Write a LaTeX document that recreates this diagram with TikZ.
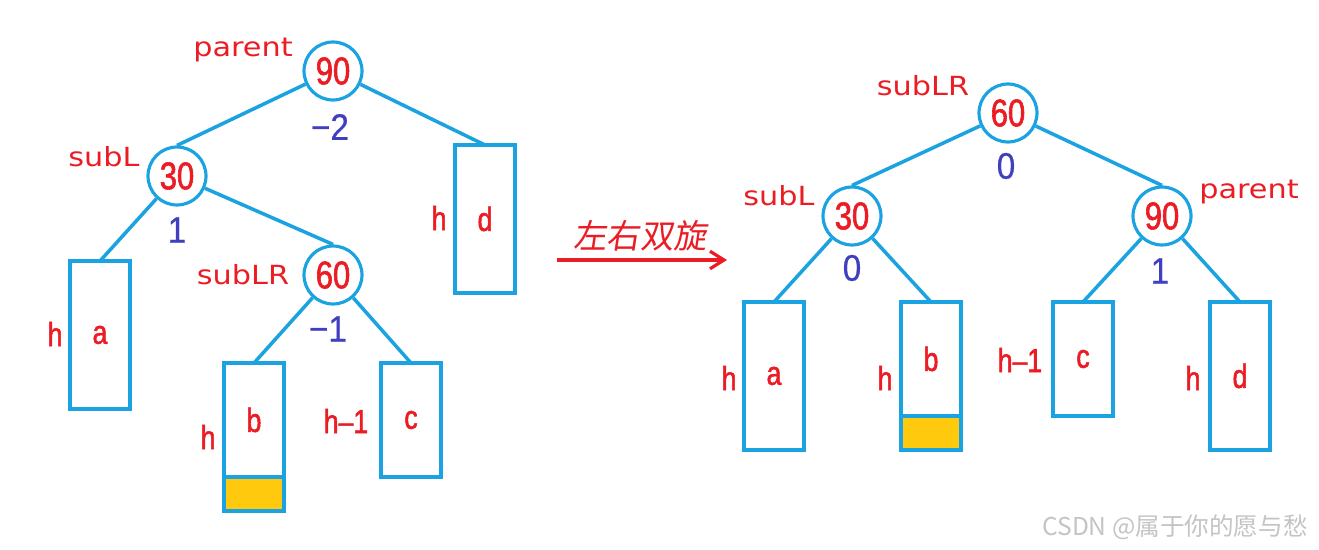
\documentclass[tikz,border=0pt]{standalone}
\usepackage{fontspec}
\setmainfont{Liberation Sans}
\newfontfamily\numfont[FakeStretch=0.9,FakeBold=0.6]{Liberation Sans}
\newfontfamily\keyfont[FakeStretch=0.8,FakeBold=1.5]{Liberation Sans}
\newfontfamily\tagfont[FakeStretch=1.15]{DejaVu Sans}
\newfontfamily\cjkfont[FakeSlant=0.15]{Noto Sans CJK SC}
\newfontfamily\markfont{Noto Sans CJK SC}
\usepackage{tikz}
\usetikzlibrary{positioning,arrows.meta,calc}
\usepackage{xcolor}
\definecolor{avlblue}{HTML}{1AA3E0}
\definecolor{avlred}{HTML}{EC1C24}
\definecolor{avlbf}{HTML}{3F3FBF}
\definecolor{avlyellow}{HTML}{FFC90E}
\definecolor{avlgray}{HTML}{C4C4C4}

\begin{document}
\begin{tikzpicture}[
    x=0.02cm, y=-0.02cm,
    keynode/.style={circle, draw=avlblue, line width=1.8pt, fill=white, minimum size=1.16cm, inner sep=0pt, text=avlred, font=\keyfont\fontsize{22}{22}\selectfont},
    subtree/.style={draw=avlblue, line width=1.9pt, fill=white, minimum width=1.2cm, minimum height=#1, inner sep=0pt, outer sep=0pt, text=avlred, font=\keyfont\fontsize{19}{19}\selectfont},
    growpart/.style={draw=avlblue, line width=1.9pt, fill=avlyellow, minimum width=1.2cm, minimum height=0.68cm, inner sep=0pt, outer sep=0pt},
    treeline/.style={draw=avlblue, line width=2pt},
    tagtext/.style={text=avlred, font=\tagfont\fontsize{15}{15}\selectfont},
    bftext/.style={text=avlbf, font=\numfont\fontsize{21}{21}\selectfont},
    httext/.style={text=avlred, font=\keyfont\fontsize{19}{19}\selectfont},
]
\useasboundingbox (0,0) rectangle (1319,550);

% === Left tree: before rotation ===
\node[keynode] (p90) at (333,71) {90};
\node[keynode] (l30) at (177,176) {30};
\node[keynode] (lr60) at (333,275) {60};
\node[subtree=2.96cm] (ta) at (100,335) {a};
\node[subtree=2.28cm] (tb) at (254,420) {b};
\node[growpart, anchor=north] (tbx) at (tb.south) {};
\node[subtree=2.28cm] (tc) at (411,420) {c};
\node[subtree=2.96cm] (td) at (485,219) {d};

\draw[treeline] (p90) -- (l30.north);
\draw[treeline] (p90) -- (td.north);
\draw[treeline] (l30) -- (ta.north);
\draw[treeline] (l30) -- (lr60.north);
\draw[treeline] (lr60) -- (tb.north);
\draw[treeline] (lr60) -- (tc.north);

\node[tagtext] (tagp) at (243,50) {parent};
\node[tagtext] (tagl) at (104,157) {subL};
\node[tagtext] (taglr) at (243,275) {subLR};
\node[bftext] (bfp) at (330,127) {−2};
\node[bftext] (bfl) at (177,230) {1};
\node[bftext] (bflr) at (328,329) {−1};
\node[httext] (ha) at (55,334) {h};
\node[httext] (hb) at (208,437) {h};
\node[httext] (hc) at (346,421) {h–1};
\node[httext] (hd) at (439,218) {h};

% === Arrow: double rotation ===
\coordinate (rs) at (557,260);
\coordinate (re) at (727,260);
\draw[-{Straight Barb[length=8pt,width=10pt]}, draw=avlred, line width=1.8pt] (rs) -- (re);
\node[text=avlred, font=\cjkfont\fontsize{19}{19}\selectfont] (rot) at (640,236) {左右双旋};

% === Right tree: after rotation ===
\node[keynode] (r60) at (1008,113) {60};
\node[keynode] (r30) at (852,216) {30};
\node[keynode] (r90) at (1162,216) {90};
\node[subtree=2.96cm] (ra) at (774,376) {a};
\node[subtree=2.28cm] (rb) at (931,359) {b};
\node[growpart, anchor=north] (rbx) at (rb.south) {};
\node[subtree=2.28cm] (rc) at (1083,359) {c};
\node[subtree=2.96cm] (rd) at (1240,376) {d};

\draw[treeline] (r60) -- (r30.north);
\draw[treeline] (r60) -- (r90.north);
\draw[treeline] (r30) -- (ra.north);
\draw[treeline] (r30) -- (rb.north);
\draw[treeline] (r90) -- (rc.north);
\draw[treeline] (r90) -- (rd.north);

\node[tagtext] (rtaglr) at (923,86) {subLR};
\node[tagtext] (rtagl) at (779,196) {subL};
\node[tagtext] (rtagp) at (1249,192) {parent};
\node[bftext] (rbf60) at (1006,166) {0};
\node[bftext] (rbf30) at (852,268) {0};
\node[bftext] (rbf90) at (1160,271) {1};
\node[httext] (rha) at (729,378) {h};
\node[httext] (rhb) at (885,378) {h};
\node[httext] (rhc) at (1020,360) {h–1};
\node[httext] (rhd) at (1193,378) {h};

% watermark
\node[text=avlgray, font=\markfont\fontsize{14}{14}\selectfont] (mark) at (1175,527) {CSDN @属于你的愿与愁};
\end{tikzpicture}
\end{document}
